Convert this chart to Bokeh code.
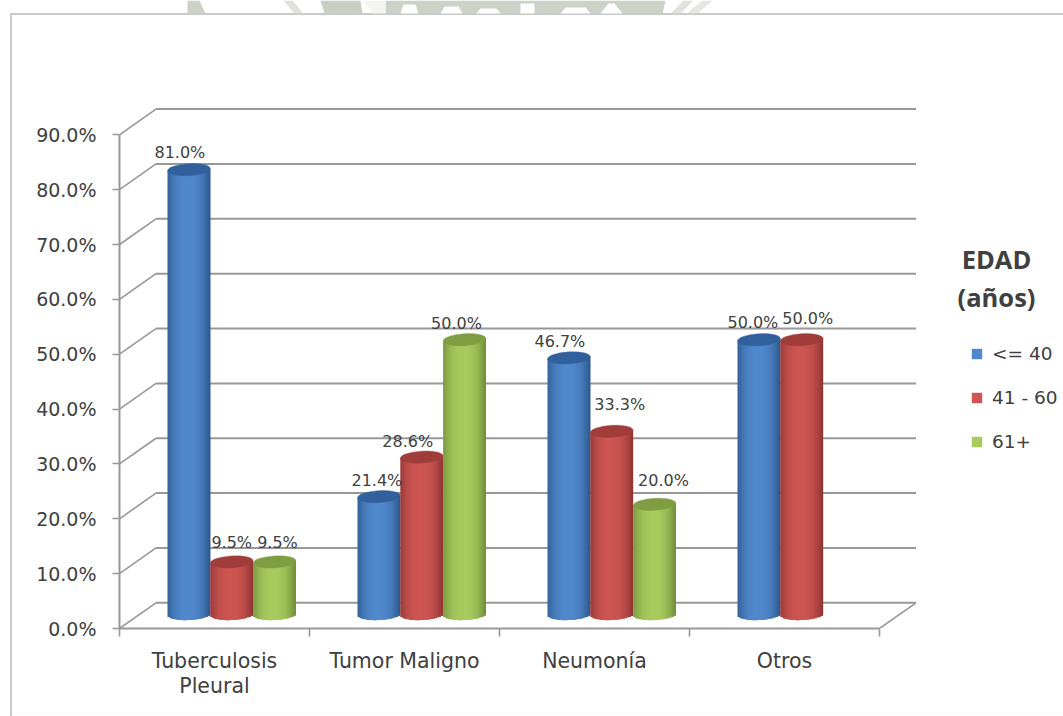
from bokeh.embed import file_html
from bokeh.models import (ColumnDataSource, FixedTicker, Label, Legend, LegendItem,
                          LinearAxis, PolyAnnotation, Range1d)
from bokeh.plotting import figure
from bokeh.resources import INLINE
from bokeh.core.properties import value as fixed
import math

# Chart values
categories = ["Tuberculosis\nPleural", "Tumor Maligno", "Neumonía", "Otros"]
series_names = ["<= 40", "41 - 60", "61+"]
edad_40 = [81.0, 21.4, 46.7, 50.0]
edad_60 = [9.5, 28.6, 33.3, 50.0]
edad_61 = [9.5, 50.0, 20.0, None]
y_ticks = [0, 10, 20, 30, 40, 50, 60, 70, 80, 90]
y_tick_labels = ["0.0%", "10.0%", "20.0%", "30.0%", "40.0%", "50.0%", "60.0%", "70.0%", "80.0%", "90.0%"]

# Page layout, in pixels
W, H = 1063, 716
LEFT, BOTTOM = 119, 628.5
PX_CAT, PX_PCT = 190.0, 5.49

# Pseudo-3D geometry, in axis units
DEPTH_X, DEPTH_Y = 36.5 / PX_CAT, 25.7 / PX_PCT
BAR_START, BAR_W = 48 / PX_CAT, 42.8 / PX_CAT
BAR_BASE = 14.5 / PX_PCT
CAP_H = 6 / PX_PCT
TILT = 1.3 / PX_PCT
N_STRIPS = 21

GRID = "#989898"
TEXT = "#404040"
FONT = "DejaVu Sans"

# colour at the edge, colour at the middle, colour of the top cap
shades = [("#2b5689", "#5088cc", "#30619c"),
          ("#8a3331", "#cd5552", "#a03c3a"),
          ("#6d8a37", "#a7cb5e", "#7e9e41")]

# Label placement relative to each bar's centre and top, in pixels: one row per series
label_shift = [
    [(-9, 8), (-2, 7), (-9, 7), (-6, 8)],
    [(0, 10), (-14, 6), (8, 17), (6, 12)],
    [(3, 10), (-8, 7), (9, 14), (0, 0)],
]


def hex_rgb(c):
    return [int(c[i:i + 2], 16) for i in (1, 3, 5)]


def mix(a, b, t):
    ca, cb = hex_rgb(a), hex_rgb(b)
    return "#%02x%02x%02x" % tuple(round(x + (y - x) * t) for x, y in zip(ca, cb))


# The page rule sits in the CSS background, since the margins are left transparent
RULE = "#c9c9c9"
page_rules = ", ".join([
    f"linear-gradient({RULE},{RULE}) 10px 13px / {W - 10}px 2px no-repeat",
    f"linear-gradient({RULE},{RULE}) 10px 13px / 2px {H - 13}px no-repeat",
    f"linear-gradient(#f6f6f6,#f6f6f6) 14px 713px / {W - 14}px 1px no-repeat",
    "white",
])

p = figure(width=W, height=H, output_backend="svg", toolbar_location=None,
           x_range=Range1d(0, (W - LEFT) / PX_CAT), y_range=Range1d(0, BOTTOM / PX_PCT),
           min_border_left=LEFT, min_border_right=0, min_border_top=0,
           min_border_bottom=round(H - BOTTOM), x_axis_location=None, y_axis_location=None,
           styles={"background": page_rules})
p.grid.visible = False
p.outline_line_color = None
p.background_fill_color = None
p.border_fill_color = None

# Faint crest fragments above the chart frame
crest = [
    ([187, 199, 205, 187], [0, 0, 13, 13], "#ccd2c6"),
    ([283, 292, 303, 294], [0, 0, 13, 13], "#dfe3dc"),
    ([320, 360, 362, 324], [0, 0, 13, 13], "#c9d0c3"),
    ([385, 665, 662, 385], [0, 0, 13, 13], "#ccd2c6"),
    ([362, 385, 385, 372], [0, 0, 13, 13], "#f4f5f3"),
    ([680, 693, 683, 670], [13, 0, 0, 13], "#dfe3dc"),
    ([697, 712, 702, 686], [13, 0, 0, 13], "#e4e7e1"),
    ([400, 418, 415, 403], [13, 13, 4, 4], "#ffffff"),
    ([440, 462, 458, 444], [13, 13, 6, 6], "#ffffff"),
    ([476, 500, 496, 480], [13, 13, 8, 8], "#ffffff"),
    ([520, 534, 534, 520], [13, 13, 3, 3], "#ffffff"),
    ([560, 590, 585, 565], [13, 13, 7, 7], "#ffffff"),
    ([600, 622, 614, 608], [13, 13, 3, 3], "#ffffff"),
]
for xs, ys, colour in crest:
    p.add_layout(PolyAnnotation(xs=xs, ys=ys, xs_units="canvas", ys_units="canvas",
                                fill_color=colour, fill_alpha=1, line_color=None, level="underlay"))

# Walls and floor of the box
grid_y = [t + DEPTH_Y for t in y_ticks]
n_cat = len(categories)
p.segment(x0=[DEPTH_X] * len(y_ticks), y0=grid_y, x1=[n_cat + DEPTH_X] * len(y_ticks), y1=grid_y,
          line_color=GRID, line_width=2)
p.segment(x0=[0] * len(y_ticks), y0=y_ticks, x1=[DEPTH_X] * len(y_ticks), y1=grid_y,
          line_color=GRID, line_width=1.6)
p.segment(x0=[n_cat], y0=[0], x1=[n_cat + DEPTH_X], y1=[DEPTH_Y], line_color=GRID, line_width=1.6)

# Axes
y_axis = LinearAxis(ticker=FixedTicker(ticks=y_ticks), bounds=(0, 90),
                    major_label_overrides={t: s for t, s in zip(y_ticks, y_tick_labels)})
y_axis.axis_line_color = GRID
y_axis.axis_line_width = 2
y_axis.major_tick_line_color = GRID
y_axis.major_tick_line_width = 1.6
y_axis.major_tick_in = 0
y_axis.major_tick_out = 7
y_axis.minor_tick_line_color = None
y_axis.major_label_standoff = 16
y_axis.major_label_text_font = FONT
y_axis.major_label_text_font_size = "19px"
y_axis.major_label_text_color = TEXT
p.add_layout(y_axis, "left")

centres = [i + 0.5 for i in range(n_cat)]
x_axis = LinearAxis(ticker=FixedTicker(ticks=centres, minor_ticks=list(range(n_cat + 1))),
                    bounds=(0, n_cat),
                    major_label_overrides={c: s for c, s in zip(centres, categories)})
x_axis.axis_line_color = GRID
x_axis.axis_line_width = 2
x_axis.major_tick_line_color = None
x_axis.minor_tick_line_color = GRID
x_axis.minor_tick_line_width = 1.6
x_axis.minor_tick_in = 0
x_axis.minor_tick_out = 8
x_axis.major_label_standoff = 12
x_axis.major_label_text_font = FONT
x_axis.major_label_text_font_size = "20.5px"
x_axis.major_label_text_color = TEXT
x_axis.major_label_text_line_height = 1.08
p.add_layout(x_axis, "below")

# Cylinders, one shaded strip at a time, so the neighbouring bars overlap left to right
all_series = [edad_40, edad_60, edad_61]
lx, ly, lt, lxo, lyo = [], [], [], [], []
for cat in range(n_cat):
    for s, values in enumerate(all_series):
        v = values[cat]
        if v is None:
            continue
        edge, middle, cap = shades[s]
        x0 = cat + BAR_START + s * BAR_W
        step = BAR_W / N_STRIPS
        left, right, bottom, top, colours = [], [], [], [], []
        for k in range(N_STRIPS):
            u = (k + 0.5) / N_STRIPS * 2 - 1
            t = 1 - min(1, abs((u + 0.05) / 1.05)) ** 2.4
            left.append(x0 + k * step)
            # each strip runs under its neighbour so no seam shows between them
            right.append(x0 + min(k + 2, N_STRIPS) * step)
            bottom.append(BAR_BASE - CAP_H * math.sqrt(1 - u * u) + TILT * u)
            top.append(BAR_BASE + v + TILT * u)
            colours.append(mix(edge, middle, t))
        p.quad(left=left, right=right, bottom=bottom, top=top, fill_color=colours, line_color=None)
        p.ellipse(x=[x0 + BAR_W / 2], y=[BAR_BASE + v], width=BAR_W, height=2 * CAP_H,
                  angle=math.atan2(TILT * PX_PCT, BAR_W / 2 * PX_CAT), fill_color=cap, line_color=cap,
                  line_width=0.4)
        dx, dy = label_shift[s][cat]
        lx.append(x0 + BAR_W / 2)
        ly.append(BAR_BASE + v)
        lt.append(f"{v:.1f}%")
        lxo.append(dx)
        lyo.append(-dy)

labels = ColumnDataSource(dict(x=lx, y=ly, text=lt, xo=lxo, yo=lyo))
p.text(x="x", y="y", text="text", x_offset="xo", y_offset="yo", source=labels, text_align="center",
       text_baseline="bottom", text_font=fixed(FONT), text_font_size="16px", text_color=TEXT)

# Legend heading
for line, py in (("EDAD", 258), ("(años)", 296)):
    p.add_layout(Label(x=996, y=py, x_units="canvas", y_units="canvas", text=line, text_align="center",
                       text_baseline="middle", text_font="Open Sans", text_font_style="bold",
                       text_font_size="25.5px", text_color=TEXT))

# Legend swatches take their colour from empty stand-in quads
items = []
for name, (edge, middle, cap) in zip(series_names, shades):
    stand_in = p.quad(left=[float("nan")], right=[float("nan")], bottom=[float("nan")],
                      top=[float("nan")], fill_color=middle, line_color=None)
    items.append(LegendItem(label=name, renderers=[stand_in]))
legend = Legend(items=items, location=(851, 175), orientation="vertical", glyph_width=13, glyph_height=13,
                label_text_font=FONT, label_text_font_size="18.5px", label_text_color=TEXT,
                label_standoff=9, spacing=21, padding=0, margin=0, border_line_color=None,
                background_fill_alpha=0, label_height=23)
p.add_layout(legend)

open("out.html", "w").write(file_html(p, INLINE))
